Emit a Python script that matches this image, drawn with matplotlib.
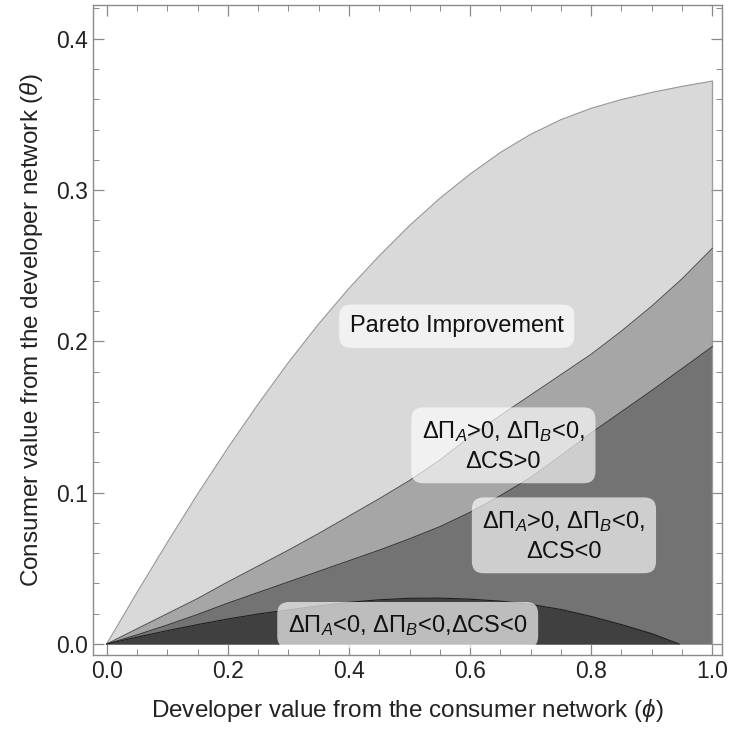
import matplotlib
matplotlib.use("Agg")
import matplotlib.pyplot as plt

plt.rcParams['font.family'] = ['Liberation Sans', 'DejaVu Sans']
plt.rcParams['mathtext.fontset'] = 'custom'
plt.rcParams['mathtext.rm'] = 'Liberation Sans'
plt.rcParams['mathtext.it'] = 'Liberation Sans:italic'

# boundary curves, theta as a function of phi
phi = [0.0, 0.05, 0.10, 0.15, 0.20, 0.25, 0.30, 0.35, 0.40, 0.45, 0.50,
       0.55, 0.60, 0.65, 0.70, 0.75, 0.80, 0.85, 0.90, 0.95, 1.0]
theta_top = [0, 0.034, 0.067, 0.099, 0.1295, 0.1585, 0.186, 0.2115, 0.235, 0.2565, 0.2765,
             0.2945, 0.3105, 0.3248, 0.3368, 0.3465, 0.354, 0.3598, 0.3645, 0.3685, 0.372]
theta_mid_upper = [0, 0.010, 0.020, 0.030, 0.041, 0.0515, 0.062, 0.073, 0.0845, 0.096, 0.108,
                   0.1215, 0.137, 0.151, 0.1645, 0.178, 0.1915, 0.2068, 0.2233, 0.2413, 0.2615]
theta_mid_lower = [0, 0.006, 0.0125, 0.0195, 0.027, 0.034, 0.041, 0.048, 0.055, 0.062, 0.0695,
                   0.0775, 0.087, 0.098, 0.110, 0.1245, 0.1395, 0.1535, 0.1675, 0.182, 0.1965]
phi_low = [0.0, 0.05, 0.10, 0.15, 0.20, 0.25, 0.30, 0.35, 0.40, 0.45, 0.50,
           0.55, 0.60, 0.65, 0.70, 0.75, 0.80, 0.85, 0.90, 0.945]
theta_low = [0, 0.0045, 0.0088, 0.0128, 0.0165, 0.0198, 0.0225, 0.0252, 0.0275, 0.0292, 0.0302,
             0.0303, 0.0296, 0.0283, 0.0262, 0.0228, 0.0182, 0.0128, 0.0068, 0.0]

labels = ["Pareto Improvement",
          "ΔΠ$_{A}$>0, ΔΠ$_{B}$<0,\nΔCS>0",
          "ΔΠ$_{A}$>0, ΔΠ$_{B}$<0,\nΔCS<0",
          "ΔΠ$_{A}$<0, ΔΠ$_{B}$<0,ΔCS<0"]
label_x = [0.578, 0.655, 0.755, 0.497]
label_y = [0.210, 0.131, 0.0715, 0.0125]

fig = plt.figure(figsize=(7.40, 7.34), dpi=100)
ax = fig.add_axes([0.1257, 0.1076, 0.85, 0.8856])

# layered fills, lightest first
ax.fill_between(phi, 0, theta_top, color="#d9d9d9", lw=0)
ax.fill_between(phi, 0, theta_mid_upper, color="#a6a6a6", lw=0)
ax.fill_between(phi, 0, theta_mid_lower, color="#737373", lw=0)
ax.fill_between(phi_low, 0, theta_low, color="#404040", lw=0)

ax.plot(phi, theta_top, color="#9a9a9a", lw=0.9)
ax.plot([phi[-1], phi[-1]], [0, theta_top[-1]], color="#9a9a9a", lw=0.9)
ax.plot(phi, theta_mid_upper, color="#555555", lw=0.8)
ax.plot(phi, theta_mid_lower, color="#3a3a3a", lw=0.8)
ax.plot(phi_low, theta_low, color="#1e1e1e", lw=0.8)

for txt, lx, ly in zip(labels, label_x, label_y):
    ax.text(lx, ly, txt, ha="center", va="center", fontsize=17, color="#111111",
            linespacing=1.4,
            bbox=dict(boxstyle="round,pad=0.45,rounding_size=0.5", fc="white", ec="none", alpha=0.66))

ax.set_xlim(-0.0226, 1.016)
ax.set_ylim(-0.0073, 0.4223)
ax.set_xticks([0, 0.2, 0.4, 0.6, 0.8, 1.0])
ax.set_xticks([i * 0.05 for i in range(21)], minor=True)
ax.set_yticks([0, 0.1, 0.2, 0.3, 0.4])
ax.set_yticks([i * 0.02 for i in range(22)], minor=True)
ax.set_xticklabels(["0.0", "0.2", "0.4", "0.6", "0.8", "1.0"])
ax.set_yticklabels(["0.0", "0.1", "0.2", "0.3", "0.4"])
ax.tick_params(which="both", direction="in", top=True, right=True, color="#8a8a8a",
               labelsize=16.5, labelcolor="#222222")
ax.tick_params(which="major", length=8, width=0.9)
ax.tick_params(which="minor", length=4, width=0.7)
for s in ax.spines.values():
    s.set_color("#8a8a8a")
    s.set_linewidth(1.0)

ax.set_xlabel("Developer value from the consumer network ($\\it{ϕ}$)", fontsize=17.5,
              color="#222222", labelpad=10)
ax.set_ylabel("Consumer value from the developer network ($\\it{θ}$)", fontsize=17.5,
              color="#222222", labelpad=8)

fig.savefig("out.png", dpi=100)
